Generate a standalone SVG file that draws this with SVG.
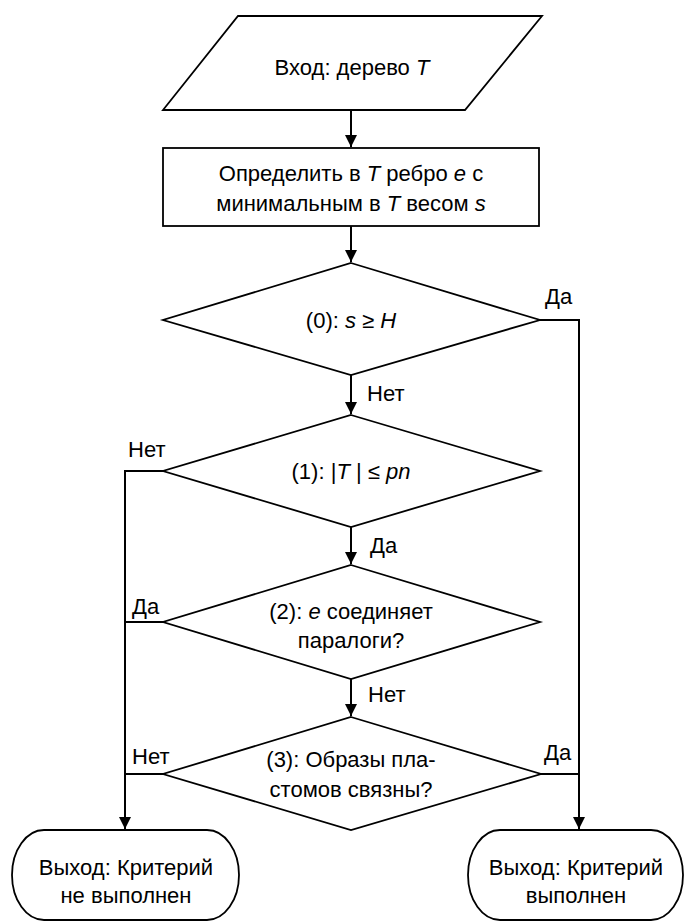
<svg xmlns="http://www.w3.org/2000/svg" width="685" height="923" viewBox="0 0 685 923">
<style>
.s{fill:#fff;stroke:#000;stroke-width:1.8}
.c{fill:none;stroke:#000;stroke-width:2}
text{font-family:"Liberation Sans",Arial,sans-serif;font-size:22px;fill:#000}
.m{text-anchor:middle}
.i{font-style:italic}
</style>
<defs>
<marker id="ah" markerWidth="12" markerHeight="14" refX="12" refY="6" orient="auto" markerUnits="userSpaceOnUse" viewBox="0 0 12 12">
<path d="M0,0 L12,6 L0,12 Z" fill="#000"/>
</marker>
</defs>
<rect width="685" height="923" fill="#fff"/>
<g id="connectors">
<line class="c" x1="351" y1="110" x2="351" y2="147" marker-end="url(#ah)"/>
<line class="c" x1="351" y1="226" x2="351" y2="262" marker-end="url(#ah)"/>
<line class="c" x1="351" y1="375" x2="351" y2="414" marker-end="url(#ah)"/>
<line class="c" x1="351" y1="527" x2="351" y2="564" marker-end="url(#ah)"/>
<line class="c" x1="351" y1="679" x2="351" y2="716" marker-end="url(#ah)"/>
<polyline class="c" points="540,320 579,320 579,829" marker-end="url(#ah)"/>
<line class="c" x1="541" y1="774" x2="579" y2="774"/>
<polyline class="c" points="163,471 125,471 125,829" marker-end="url(#ah)"/>
<line class="c" x1="163" y1="622" x2="125" y2="622"/>
<line class="c" x1="163" y1="774" x2="125" y2="774"/>
<text x="367" y="401">Нет</text>
<text x="370" y="553">Да</text>
<text x="368" y="702">Нет</text>
<text x="545" y="304">Да</text>
<text x="544" y="760">Да</text>
<text x="128" y="457">Нет</text>
<text x="132" y="614">Да</text>
<text x="132" y="764">Нет</text>
</g>
<g id="input">
<polygon class="s" points="238,16 542,16 465,110 163,110"/>
<text class="m" x="352" y="75">Вход: дерево <tspan class="i">T</tspan></text>
</g>
<g id="process">
<rect class="s" x="163" y="148" width="376" height="78"/>
<text class="m" x="351" y="181">Определить в <tspan class="i">T</tspan> ребро <tspan class="i">e</tspan> с</text>
<text class="m" x="351" y="211">минимальным в <tspan class="i">T</tspan> весом <tspan class="i">s</tspan></text>
</g>
<g id="cond0">
<polygon class="s" points="351,263 540,320 351,375 163,320"/>
<text class="m" x="351" y="328">(0): <tspan class="i">s</tspan> ≥ <tspan class="i">H</tspan></text>
</g>
<g id="cond1">
<polygon class="s" points="351,415 540,471 351,527 163,471"/>
<text class="m" x="351" y="479">(1): |<tspan class="i">T</tspan> | ≤ <tspan class="i">pn</tspan></text>
</g>
<g id="cond2">
<polygon class="s" points="351,565 540,622 351,679 163,622"/>
<text class="m" x="351" y="619">(2): <tspan class="i">e</tspan> соединяет</text>
<text class="m" x="351" y="648">паралоги?</text>
</g>
<g id="cond3">
<polygon class="s" points="351,717 541,774 351,830 163,774"/>
<text class="m" x="351" y="767">(3): Образы пла-</text>
<text class="m" x="351" y="797">стомов связны?</text>
</g>
<g id="exit-no">
<rect class="s" x="12" y="830" width="227" height="90" rx="32" ry="45"/>
<text class="m" x="126" y="875">Выход: Критерий</text>
<text class="m" x="126" y="903">не выполнен</text>
</g>
<g id="exit-yes">
<rect class="s" x="468" y="830" width="215" height="90" rx="32" ry="45"/>
<text class="m" x="576" y="875">Выход: Критерий</text>
<text class="m" x="576" y="903">выполнен</text>
</g>
</svg>
